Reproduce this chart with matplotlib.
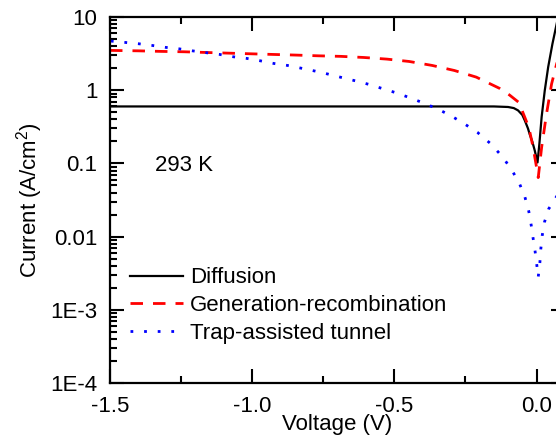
import numpy as np
import matplotlib
matplotlib.use("Agg")
import matplotlib.pyplot as plt

plt.rcParams['font.family'] = ['Liberation Sans', 'DejaVu Sans']
plt.rcParams['mathtext.default'] = 'regular'

# diffusion current (A/cm2) vs voltage (V)
diff_v = [-1.5, -1.3, -1.1, -0.9, -0.7, -0.5, -0.3, -0.15, -0.1, -0.08, -0.065, -0.05,
          -0.041, -0.03, -0.024, -0.015, -0.006, 0.0035, 0.01, 0.018, 0.029, 0.041,
          0.056, 0.071, 0.08, 0.1]
diff_i = [0.6, 0.6, 0.6, 0.6, 0.6, 0.6, 0.6, 0.6, 0.59, 0.57, 0.53, 0.46,
          0.385, 0.3, 0.25, 0.2, 0.149, 0.103, 0.184, 0.43, 0.99, 2.07,
          4.3, 8.1, 12.0, 30.0]

# generation-recombination current
gr_v = [-1.5, -1.4, -1.32, -1.24, -1.165, -1.084, -1.0, -0.925, -0.847, -0.766,
        -0.688, -0.607, -0.526, -0.448, -0.367, -0.289, -0.212, -0.13, -0.095,
        -0.062, -0.027, -0.012, 0.0, 0.006, 0.018, 0.035, 0.053, 0.071, 0.09, 0.1]
gr_i = [3.5, 3.45, 3.39, 3.35, 3.28, 3.21, 3.14, 3.08, 3.02, 2.95,
        2.9, 2.8, 2.66, 2.47, 2.18, 1.86, 1.51, 1.06, 0.86,
        0.68, 0.31, 0.166, 0.089, 0.064, 0.166, 0.47, 1.22, 2.3, 4.5, 6.0]

# trap-assisted tunnelling current
tat_v = [-1.497, -1.448, -1.399, -1.352, -1.305, -1.258, -1.21, -1.16, -1.114, -1.066,
         -1.019, -0.971, -0.924, -0.876, -0.828, -0.78, -0.733, -0.685, -0.636, -0.589,
         -0.541, -0.493, -0.446, -0.398, -0.35, -0.302, -0.255, -0.208, -0.16, -0.118,
         -0.085, -0.059, -0.041, -0.027, -0.019, -0.012, -0.005, 0.001, 0.006, 0.012,
         0.015, 0.02, 0.028, 0.043, 0.072, 0.1]
tat_i = [4.69, 4.5, 4.31, 4.09, 3.85, 3.68, 3.45, 3.25, 3.08, 2.86,
         2.72, 2.52, 2.32, 2.18, 2.0, 1.83, 1.66, 1.49, 1.34, 1.2,
         1.05, 0.92, 0.79, 0.67, 0.56, 0.45, 0.35, 0.266, 0.184, 0.121,
         0.079, 0.052, 0.035, 0.022, 0.0146, 0.0095, 0.0063, 0.0041, 0.0028, 0.0045,
         0.0067, 0.0103, 0.0158, 0.024, 0.036, 0.045]

x_ticks = [-1.5, -1.0, -0.5, 0.0]
x_labels = ['-1.5', '-1.0', '-0.5', '0.0']
y_ticks = [1e-4, 1e-3, 1e-2, 1e-1, 1, 10]
y_labels = ['1E-4', '1E-3', '0.01', '0.1', '1', '10']


def graph():
    fig = plt.figure(figsize=(5.56, 4.43), dpi=100)
    # right edge of the frame runs a little past the figure
    ax = fig.add_axes([0.1978, 0.1354, 0.8183, 0.8262])

    ax.plot(diff_v, diff_i, color='black', lw=1.6, label='Diffusion')
    ax.plot(gr_v, gr_i, color='red', lw=2, dashes=(4.5, 3.6), label='Generation-recombination')
    ax.plot(tat_v, tat_i, color='blue', lw=2, dashes=(1, 3.9), label='Trap-assisted tunnel')

    ax.set_yscale('log')
    ax.set_xlim(-1.5, 0.1)
    ax.set_ylim(1e-4, 10)

    ax.set_xticks(x_ticks)
    ax.set_xticklabels(x_labels)
    ax.set_xticks([-1.25, -0.75, -0.25], minor=True)
    ax.set_yticks(y_ticks)
    ax.set_yticklabels(y_labels)

    ax.tick_params(which='both', direction='in', top=True, right=True, width=1.5, labelsize=16)
    ax.tick_params(which='major', length=10, pad=9)
    ax.tick_params(which='minor', length=5)
    for sp in ax.spines.values():
        sp.set_linewidth(1.6)

    ax.set_xlabel('Voltage (V)', fontsize=16, labelpad=-2)
    ax.set_ylabel('Current (A/cm$^2$)', fontsize=16, labelpad=4)

    ax.text(0.099, 0.593, '293 K', transform=ax.transAxes, fontsize=16, va='center')

    ax.legend(loc='upper left', bbox_to_anchor=(0.044, 0.316), frameon=False, fontsize=16,
              borderpad=0, borderaxespad=0, handlelength=2.4, handletextpad=0.3,
              labelspacing=0.3)

    plt.savefig('out.png', dpi=100)


if __name__ == "__main__":
    graph()
